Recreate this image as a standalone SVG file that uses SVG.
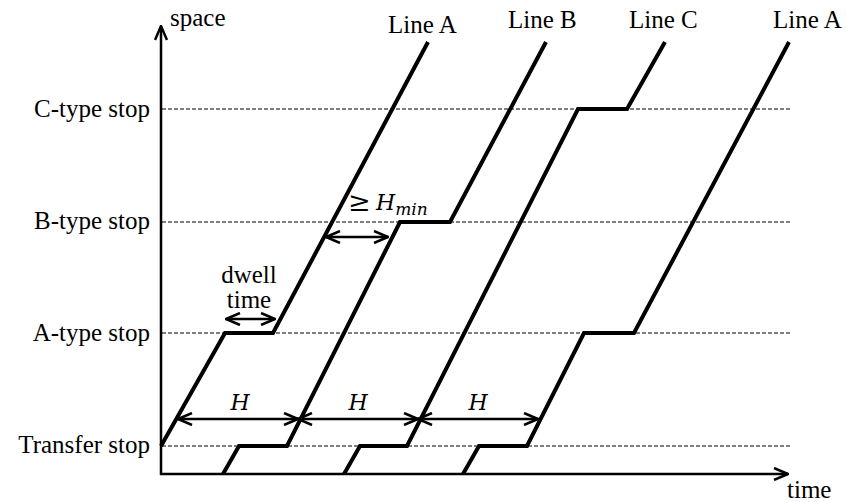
<svg xmlns="http://www.w3.org/2000/svg" width="846" height="502" viewBox="0 0 846 502">
<style>
text{font-family:"Liberation Serif","Times New Roman",serif;font-size:25px;fill:#000}
.lbl{text-anchor:end}
.math{font-family:"DejaVu Serif","Liberation Serif",serif;font-style:italic;font-size:22px}
.stop{stroke:#000;stroke-width:1;stroke-dasharray:4,2;fill:none}
.trip{stroke:#000;stroke-width:4;fill:none;stroke-linejoin:miter}
.axis{stroke:#000;stroke-width:2.5;fill:none}
.dim{stroke:#000;stroke-width:2.5;fill:none;marker-start:url(#ch);marker-end:url(#ch)}
</style>
<defs>
<marker id="ch" viewBox="0 0 16 14" refX="15" refY="7" markerWidth="16" markerHeight="14" markerUnits="userSpaceOnUse" orient="auto-start-reverse">
<path d="M1,1 L15,7 L1,13" fill="none" stroke="#000" stroke-width="2.5"/>
</marker>
<marker id="axh" viewBox="0 0 16 14" refX="15" refY="7" markerWidth="16" markerHeight="14" markerUnits="userSpaceOnUse" orient="auto">
<path d="M1,1 L15,7 L1,13" fill="none" stroke="#000" stroke-width="2.5"/>
</marker>
</defs>

<g id="stops">
<line class="stop" x1="162" y1="109" x2="790" y2="109"/>
<line class="stop" x1="162" y1="222" x2="790" y2="222"/>
<line class="stop" x1="162" y1="333" x2="790" y2="333"/>
<line class="stop" x1="162" y1="446" x2="790" y2="446"/>
<text class="lbl" x="150" y="117">C-type stop</text>
<text class="lbl" x="150" y="229">B-type stop</text>
<text class="lbl" x="150" y="341">A-type stop</text>
<text class="lbl" x="150" y="453">Transfer stop</text>
</g>

<g id="axes">
<line class="axis" x1="161" y1="475" x2="161" y2="26" marker-end="url(#axh)"/>
<line class="axis" x1="160" y1="474" x2="788" y2="474" marker-end="url(#axh)"/>
<text x="170" y="26">space</text>
<text x="787" y="498">time</text>
</g>

<g id="lineA1">
<path class="trip" d="M161,446 L225,333 L273,333 L428,42"/>
<text x="388" y="33">Line A</text>
</g>
<g id="lineB">
<path class="trip" d="M223,474 L239,446 L287,446 L400,222 L450,222 L546,42"/>
<text x="508" y="28">Line B</text>
</g>
<g id="lineC">
<path class="trip" d="M344,474 L360,446 L407,446 L578,109 L627,109 L665,42"/>
<text x="629" y="28">Line C</text>
</g>
<g id="lineA2">
<path class="trip" d="M463,474 L479,446 L527,446 L584,333 L634,333 L789,42"/>
<text x="773" y="28">Line A</text>
</g>

<g id="connectors">
<line class="dim" x1="178" y1="419" x2="298" y2="419"/>
<line class="dim" x1="298" y1="419" x2="418" y2="419"/>
<line class="dim" x1="418" y1="419" x2="538" y2="419"/>
<line class="dim" x1="226" y1="319" x2="275" y2="319"/>
<line class="dim" x1="326" y1="237" x2="388" y2="237"/>
</g>

<g id="annotations">
<text class="math" x="240" y="410" text-anchor="middle">H</text>
<text class="math" x="358" y="410" text-anchor="middle">H</text>
<text class="math" x="478" y="410" text-anchor="middle">H</text>
<text x="249" y="283" text-anchor="middle">dwell</text>
<text x="249" y="308" text-anchor="middle">time</text>
<text x="348" y="211" style="font-family:'DejaVu Serif',serif;font-size:27px">≥</text>
<text x="376" y="210" class="math">H<tspan font-size="17" dy="5">min</tspan></text>
</g>
</svg>
